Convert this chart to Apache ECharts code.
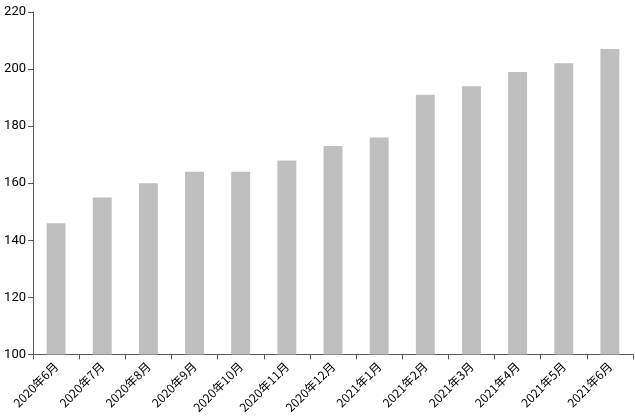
<!DOCTYPE html>
<html><head><meta charset="utf-8">
<script src="https://cdn.jsdelivr.net/npm/echarts@6/dist/echarts.min.js"></script>
<style>html,body{margin:0;padding:0;background:#fff}#c{width:635px;height:416px}</style>
</head><body><div id="c"></div>
<script>
const categories = ['2020年6月','2020年7月','2020年8月','2020年9月','2020年10月','2020年11月','2020年12月','2021年1月','2021年2月','2021年3月','2021年4月','2021年5月','2021年6月'];
const values = [146, 155, 160, 164, 164, 168, 173, 176, 191, 194, 199, 202, 207];
const yMin = 100, yMax = 220, yStep = 20;
const chart = echarts.init(document.getElementById('c'));
chart.setOption({
  animation: false,
  grid: {left: 33, right: 2, top: 12, bottom: 60, containLabel: false},
  xAxis: {
    type: 'category', data: categories,
    axisLine: {lineStyle: {color: '#595959'}},
    axisTick: {show: true, alignWithLabel: false, lineStyle: {color: '#595959'}},
    axisLabel: {rotate: 45, color: '#000', fontSize: 12, fontFamily: '"Noto Sans CJK SC", sans-serif', interval: 0, margin: 10}
  },
  yAxis: {
    type: 'value', min: yMin, max: yMax, interval: yStep,
    axisLine: {show: true, lineStyle: {color: '#595959'}},
    axisTick: {show: true, lineStyle: {color: '#595959'}},
    splitLine: {show: false},
    axisLabel: {color: '#000', fontSize: 13, fontFamily: 'Roboto, sans-serif', margin: 7}
  },
  series: [{type: 'bar', data: values, barWidth: '41%', itemStyle: {color: '#bfbfbf'}}]
});
</script></body></html>
